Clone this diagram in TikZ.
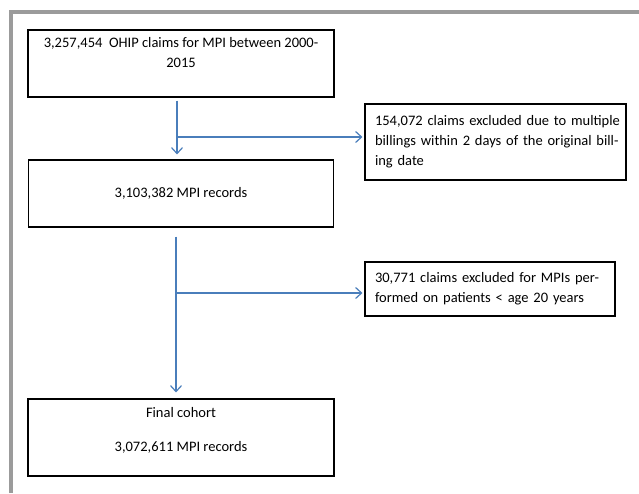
\documentclass[tikz,border=0pt]{standalone}
\usepackage{fontspec}
\setmainfont{Carlito}
\usetikzlibrary{arrows.meta}
\definecolor{flowblue}{RGB}{74,126,187}
\definecolor{framegray}{RGB}{155,155,155}
\begin{document}
\begin{tikzpicture}[x=1pt,y=-1pt,
  box/.style={draw,line width=1.1pt,rectangle,inner sep=0pt,align=center,
    font=\fontsize{14.5}{20}\selectfont},
  excl/.style={draw,line width=1.1pt,rectangle,inner xsep=10pt,inner ysep=0pt,
    align=left,font=\fontsize{14.5}{20}\selectfont},
  flow/.style={draw=flowblue,line width=1.2pt,
    -{Straight Barb[length=6pt,width=11pt]}}]
  \useasboundingbox (0,0) rectangle (639,493);
  \draw[framegray,line width=3.5pt] (11,493) -- (11,12) -- (639,12);

  \node[box,minimum width=306pt,minimum height=67pt]
  (b1) at (181, 63.5) {3,257,454\ \ OHIP claims for MPI between 2000-\\2015\\[-4pt]\strut};
  \node[box,minimum width=305pt,minimum height=67pt]
  (b2) at (181, 193.5) {3,103,382 MPI records};
  \node[box,minimum width=306pt,minimum height=77pt]
  (b3) at (181, 437.5) {Final cohort\\[14pt]3,072,611 MPI records\\[-9pt]\strut};
  \node[excl,text width=241pt,minimum height=76pt]
  (ex1) at (495.5, 142) {\mbox{154,072 claims excluded due to multiple}\\
    \mbox{billings within 2 days of the original bill-}\\\mbox{ing date}};
  \node[excl,text width=230pt,minimum height=54pt]
  (ex2) at (490, 289) {\mbox{30,771 claims excluded for MPIs per-}\\
    \mbox{formed on patients < age 20 years}};

  \coordinate (j1) at (177, 137);
  \coordinate (j2) at (176, 293);

  \draw[flow,shorten <=3pt,shorten >=5pt] ([xshift=-4pt]b1.south) -- ([xshift=-4pt]b2.north);
  \draw[flow,shorten >=2pt] (j1) -- (j1 -| ex1.west);
  \draw[flow,shorten <=9pt,shorten >=6pt] ([xshift=-5pt]b2.south) -- ([xshift=-5pt]b3.north);
  \draw[flow,shorten >=2pt] (j2) -- (j2 -| ex2.west);
\end{tikzpicture}
\end{document}
